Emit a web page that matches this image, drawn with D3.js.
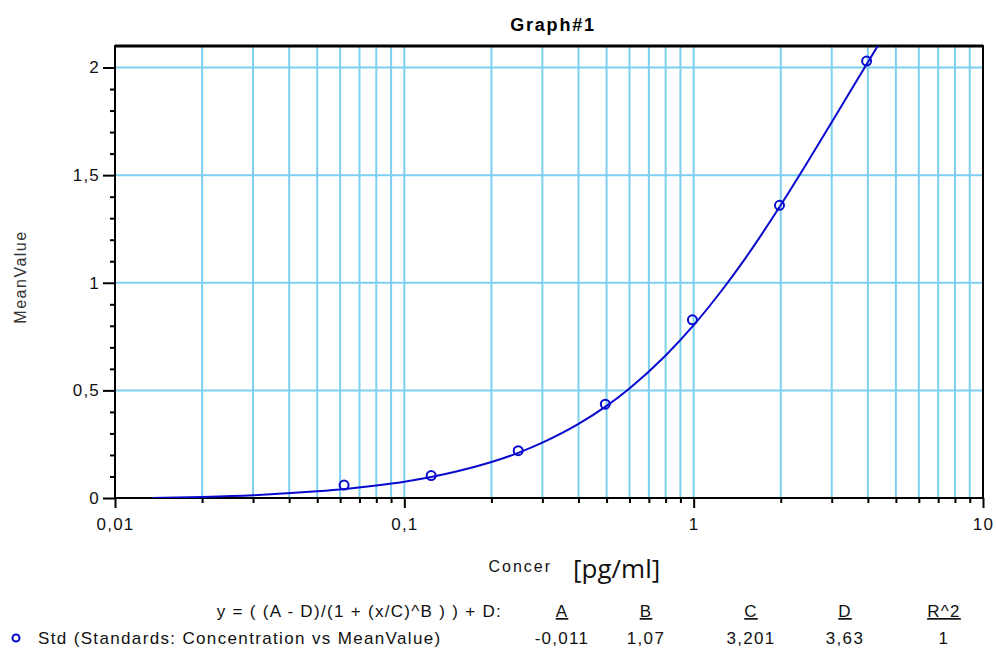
<!DOCTYPE html>
<html>
<head>
<meta charset="utf-8">
<script src="https://cdn.jsdelivr.net/npm/d3@7"></script>
<style>
  body { margin: 0; background: #fff; }
  text { font-family: "Liberation Sans", Arial, sans-serif; }
</style>
</head>
<body>
<div id="chart"></div>
<script>
// standards (measured points)
var stdConc = [0.0619, 0.1238, 0.2475, 0.495, 0.99, 1.98, 3.96];
var stdMean = [0.060, 0.104, 0.220, 0.436, 0.828, 1.360, 2.030];

// fitted curve
var fitConc = [0.0135, 0.02, 0.03, 0.05, 0.0625, 0.08, 0.1, 0.125, 0.15, 0.2, 0.25, 0.3, 0.4, 0.5, 0.6, 0.8, 1, 1.25, 1.5, 2, 2.5, 3, 3.5, 4, 4.5];
var fitMean = [0.000, 0.005, 0.013, 0.031, 0.042, 0.058, 0.076, 0.099, 0.122, 0.167, 0.212, 0.257, 0.344, 0.428, 0.509, 0.662, 0.803, 0.964, 1.109, 1.361, 1.570, 1.746, 1.896, 2.025, 2.138];

// ticks and fit table
var yTicks = [0, 0.5, 1, 1.5, 2];
var xMajor = [0.01, 0.1, 1, 10];
var paramNames = ["A", "B", "C", "D", "R^2"];
var paramValues = ["-0,011", "1,07", "3,201", "3,63", "1"];

var svgWidth = 996, svgHeight = 650;
var plot = { left: 115, right: 983, top: 46, bottom: 498 };
var gridColor = "#7dcff0";
var curveColor = "#0a0acf";
var fontFam = "'Liberation Sans', Arial, sans-serif";

var svg = d3.select("#chart").append("svg")
  .attr("width", svgWidth)
  .attr("height", svgHeight);

var xscale = d3.scaleLog().domain([0.01, 10]).range([plot.left, plot.right]);
var yscale = d3.scaleLinear().domain([0, 2.1]).range([plot.bottom, plot.top]);

var comma = function(v) { return String(v).replace(".", ","); };

// all decade sub-ticks: 0.01, 0.02 ... 9, 10
var xAll = xscale.ticks();
var xMinor = xAll.filter(function(v) { return xMajor.indexOf(v) < 0; });

// vertical grid lines
svg.append("g").selectAll("line")
  .data(xAll.filter(function(v) { return v > 0.01 && v < 10; }))
  .enter().append("line")
  .attr("x1", function(d) { return xscale(d); })
  .attr("x2", function(d) { return xscale(d); })
  .attr("y1", plot.top)
  .attr("y2", plot.bottom)
  .attr("stroke", gridColor)
  .attr("stroke-width", 2);

// horizontal grid lines
svg.append("g").selectAll("line")
  .data(yTicks.filter(function(v) { return v > 0; }))
  .enter().append("line")
  .attr("x1", plot.left)
  .attr("x2", plot.right)
  .attr("y1", function(d) { return yscale(d); })
  .attr("y2", function(d) { return yscale(d); })
  .attr("stroke", gridColor)
  .attr("stroke-width", 2);

// y axis with minor ticks
var yMinor = d3.range(0, 21).map(function(i) { return i / 10; })
  .filter(function(v) { return yTicks.indexOf(v) < 0; });

svg.append("g")
  .attr("transform", "translate(" + plot.left + ",0)")
  .call(d3.axisLeft(yscale).tickValues(yMinor).tickSize(5).tickFormat(""))
  .call(function(g) { g.select(".domain").remove(); })
  .selectAll("line").attr("stroke-width", 2);

var yAxis = svg.append("g")
  .attr("transform", "translate(" + plot.left + ",0)")
  .call(d3.axisLeft(yscale).tickValues(yTicks).tickSize(12).tickPadding(3).tickFormat(comma));
yAxis.select(".domain").remove();
yAxis.selectAll("line").attr("stroke-width", 2);
yAxis.selectAll("text").attr("font-size", 17).attr("fill", "#111")
  .attr("letter-spacing", 1.2)
  .style("font-family", fontFam);

// x axis with minor ticks
svg.append("g")
  .attr("transform", "translate(0," + plot.bottom + ")")
  .call(d3.axisBottom(xscale).tickValues(xMinor).tickSize(5).tickFormat(""))
  .call(function(g) { g.select(".domain").remove(); })
  .selectAll("line").attr("stroke-width", 2);

var xAxis = svg.append("g")
  .attr("transform", "translate(0," + plot.bottom + ")")
  .call(d3.axisBottom(xscale).tickValues(xMajor).tickSize(10).tickPadding(10).tickFormat(comma));
xAxis.select(".domain").remove();
xAxis.selectAll("line").attr("stroke-width", 2);
xAxis.selectAll("text").attr("font-size", 17).attr("fill", "#111")
  .attr("letter-spacing", 1.2)
  .style("font-family", fontFam);

// frame
svg.append("rect")
  .attr("x", plot.left)
  .attr("y", plot.top)
  .attr("width", plot.right - plot.left)
  .attr("height", plot.bottom - plot.top)
  .attr("fill", "none")
  .attr("stroke", "#000")
  .attr("stroke-width", 2);
svg.append("line")
  .attr("x1", plot.left).attr("x2", plot.right)
  .attr("y1", plot.top).attr("y2", plot.top)
  .attr("stroke", "#000").attr("stroke-width", 3);

// clip the curve to the plot area
svg.append("clipPath").attr("id", "plotClip")
  .append("rect")
  .attr("x", plot.left).attr("y", plot.top)
  .attr("width", plot.right - plot.left)
  .attr("height", plot.bottom - plot.top);

var fitData = fitConc.map(function(c, i) { return { x: c, y: fitMean[i] }; });
var line = d3.line()
  .x(function(d) { return xscale(d.x); })
  .y(function(d) { return yscale(d.y); })
  .curve(d3.curveMonotoneX);

svg.append("path")
  .datum(fitData)
  .attr("clip-path", "url(#plotClip)")
  .attr("d", line)
  .attr("fill", "none")
  .attr("stroke", curveColor)
  .attr("stroke-width", 2);

// standard points
svg.append("g").selectAll("circle")
  .data(stdConc.map(function(c, i) { return { x: c, y: stdMean[i] }; }))
  .enter().append("circle")
  .attr("cx", function(d) { return xscale(d.x); })
  .attr("cy", function(d) { return yscale(d.y); })
  .attr("r", 4.5)
  .attr("fill", "none")
  .attr("stroke", curveColor)
  .attr("stroke-width", 2);

// title
svg.append("text")
  .attr("x", 553).attr("y", 31)
  .attr("text-anchor", "middle")
  .attr("font-size", 18)
  .attr("font-weight", "bold")
  .attr("letter-spacing", 1.8)
  .text("Graph#1");

// y label
svg.append("text")
  .attr("transform", "translate(26,277) rotate(-90)")
  .attr("text-anchor", "middle")
  .attr("font-size", 16)
  .attr("letter-spacing", 1.5)
  .attr("fill", "#333")
  .text("MeanValue");

// x label
svg.append("text")
  .attr("x", 552).attr("y", 572)
  .attr("text-anchor", "end")
  .attr("font-size", 16)
  .attr("letter-spacing", 2)
  .attr("fill", "#111")
  .text("Concer");
svg.append("text")
  .attr("x", 573).attr("y", 578)
  .attr("font-size", 26)
  .attr("fill", "#111")
  .style("font-family", "'Open Sans', sans-serif")
  .text("[pg/ml]");

// fit table
svg.append("text")
  .attr("x", 502).attr("y", 617)
  .attr("text-anchor", "end")
  .attr("font-size", 17)
  .attr("letter-spacing", 1.3)
  .attr("fill", "#111")
  .text("y = ( (A - D)/(1 + (x/C)^B ) ) + D:");

var colX = [562, 646, 751, 845, 944];
svg.append("g").selectAll("text")
  .data(paramNames)
  .enter().append("text")
  .attr("x", function(d, i) { return colX[i]; })
  .attr("y", 617)
  .attr("text-anchor", "middle")
  .attr("font-size", 17)
  .attr("letter-spacing", 1.3)
  .attr("fill", "#111")
  .attr("text-decoration", "underline")
  .text(function(d) { return d; });

svg.append("circle")
  .attr("cx", 16).attr("cy", 638)
  .attr("r", 3.5)
  .attr("fill", "none")
  .attr("stroke", curveColor)
  .attr("stroke-width", 2);

svg.append("text")
  .attr("x", 38).attr("y", 644)
  .attr("font-size", 17)
  .attr("letter-spacing", 1.35)
  .attr("fill", "#111")
  .text("Std (Standards: Concentration vs MeanValue)");

svg.append("g").selectAll("text")
  .data(paramValues)
  .enter().append("text")
  .attr("x", function(d, i) { return colX[i]; })
  .attr("y", 644)
  .attr("text-anchor", "middle")
  .attr("font-size", 17)
  .attr("letter-spacing", 1.3)
  .attr("fill", "#111")
  .text(function(d) { return d; });
</script>
</body>
</html>
